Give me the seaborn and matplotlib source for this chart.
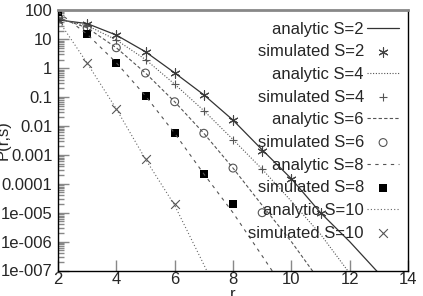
"""Distance distribution P(r,s): analytic curves vs simulated points."""

import matplotlib

matplotlib.use("Agg")
import matplotlib.pyplot as plt
import numpy as np
import seaborn as sns
from matplotlib.ticker import LogLocator, NullFormatter

# analytic curves (r, P)
r_an_s2 = [2, 3, 4, 5, 6, 7, 8, 9, 10, 11, 12, 13, 14]
an_s2 = [47, 35, 14, 3.7, 0.69, 0.12, 0.016, 1.5e-3, 1.5e-4, 1.0e-5, 1.0e-6, 8e-8, 6e-9]
r_an_s4 = [2, 3, 4, 5, 6, 7, 8, 9, 10, 11, 12, 13]
an_s4 = [50, 30, 9.5, 2.0, 0.28, 0.034, 3.4e-3, 3.2e-4, 2.5e-5, 1.8e-6, 8e-8, 5e-9]
r_an_s6 = [2, 3, 4, 5, 6, 7, 8, 9, 10, 11]
an_s6 = [56, 25, 5.1, 0.68, 0.069, 5.6e-3, 3.5e-4, 1.8e-5, 1.0e-6, 4e-8]
r_an_s8 = [2, 3, 4, 5, 6, 7, 8, 9, 10]
an_s8 = [88, 15, 1.55, 0.11, 5.6e-3, 2.2e-4, 1.0e-5, 3.2e-7, 1e-8]
r_an_s10 = [2, 3, 4, 5, 6, 7, 8]
an_s10 = [47, 1.5, 0.039, 7.1e-4, 1.8e-5, 1.6e-7, 1.3e-9]

# simulated points (r, P)
r_sim_s2 = [2, 3, 4, 5, 6, 7, 8, 9, 10, 11]
sim_s2 = [47, 35, 14, 3.7, 0.69, 0.12, 0.016, 1.4e-3, 1.5e-4, 1.0e-5]
r_sim_s4 = [2, 3, 4, 5, 6, 7, 8, 9]
sim_s4 = [50, 30, 9.5, 2.0, 0.28, 0.034, 3.4e-3, 3.2e-4]
r_sim_s6 = [2, 3, 4, 5, 6, 7, 8, 9]
sim_s6 = [56, 25, 5.1, 0.68, 0.069, 5.6e-3, 3.5e-4, 1.0e-5]
r_sim_s8 = [2, 3, 4, 5, 6, 7, 8]
sim_s8 = [88, 15, 1.55, 0.11, 5.6e-3, 2.2e-4, 2.0e-5]
r_sim_s10 = [2, 3, 4, 5, 6]
sim_s10 = [47, 1.5, 0.039, 7.1e-4, 2.0e-5]

s_values = ["2", "4", "6", "8", "10"]
y_ticks = [1e2, 1e1, 1, 1e-1, 1e-2, 1e-3, 1e-4, 1e-5, 1e-6, 1e-7]
y_tick_labels = ["100", "10", "1", "0.1", "0.01", "0.001", "0.0001",
                 "1e-005", "1e-006", "1e-007"]
x_ticks = [2, 4, 6, 8, 10, 12, 14]

analytic = [(r_an_s2, an_s2), (r_an_s4, an_s4), (r_an_s6, an_s6),
            (r_an_s8, an_s8), (r_an_s10, an_s10)]
simulated = [(r_sim_s2, sim_s2), (r_sim_s4, sim_s4), (r_sim_s6, sim_s6),
             (r_sim_s8, sim_s8), (r_sim_s10, sim_s10)]

line_styles = [
    dict(color="#333333", linewidth=0.9, linestyle="-"),
    dict(color="#555555", linewidth=0.8, linestyle=(0, (1, 1.5))),
    dict(color="#555555", linewidth=0.8, linestyle=(0, (3, 2))),
    dict(color="#555555", linewidth=0.8, linestyle=(0, (3, 4))),
    dict(color="#666666", linewidth=0.8, linestyle=(0, (1, 2))),
]
marker_styles = [
    dict(marker=(6, 2, 0), s=45, color="#444444", linewidth=0.8),
    dict(marker="+", s=38, color="#555555", linewidth=0.8),
    dict(marker="o", s=32, facecolor="none", edgecolor="#555555", linewidth=0.8),
    dict(marker="s", s=26, color="black", linewidth=0),
    dict(marker="x", s=40, color="#555555", linewidth=0.8),
]

sns.set_style("ticks")
plt.rcParams["font.family"] = ["Liberation Sans", "DejaVu Sans"]
plt.rcParams["font.size"] = 12

fig = plt.figure(figsize=(4.23, 2.96), dpi=100)
ax = fig.add_axes([58 / 423, 1 - 270.5 / 296, 350 / 423, 260.1 / 296])

for s, (ra, pa), (rs, ps), ls, ms in zip(s_values, analytic, simulated,
                                         line_styles, marker_styles):
    sns.lineplot(x=ra, y=pa, ax=ax, label=f"analytic S={s}", **ls)
    sns.scatterplot(x=rs, y=ps, ax=ax, label=f"simulated S={s}", **ms)

ax.set_yscale("log")
ax.set_xlim(2, 14)
ax.set_ylim(1e-7, 100)
ax.set_xticks(x_ticks)
ax.set_yticks(y_ticks, y_tick_labels)
ax.yaxis.set_minor_locator(LogLocator(base=10, subs=np.arange(2, 10), numticks=20))
ax.yaxis.set_minor_formatter(NullFormatter())

ax.tick_params(axis="both", which="major", direction="in", length=8,
               width=1, color="#888888", labelsize=12)
ax.tick_params(axis="y", which="minor", direction="in", length=4.5,
               width=1, color="#888888")
ax.tick_params(axis="y", pad=4)
ax.tick_params(axis="x", pad=1)

for side in ["left", "bottom", "right"]:
    ax.spines[side].set_color("black")
    ax.spines[side].set_linewidth(1.0)
ax.spines["top"].set_color("#888888")
ax.spines["top"].set_linewidth(2.0)

ax.set_xlabel("r", fontsize=12, labelpad=0)
ax.set_ylabel("P(r,s)", fontsize=12)
ax.yaxis.set_label_coords(-0.135, 0.5)

ax.legend(loc="upper right", bbox_to_anchor=(0.974, 0.957), frameon=False,
          markerfirst=False, fontsize=12, borderpad=0, borderaxespad=0,
          labelspacing=0.46, handlelength=1.9, handletextpad=0.2,
          scatterpoints=1)

fig.savefig("out.png", dpi=100)
